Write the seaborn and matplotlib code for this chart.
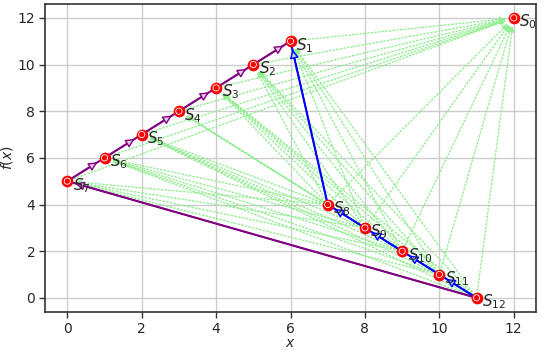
import matplotlib
matplotlib.use("Agg")
import matplotlib.pyplot as plt
import seaborn as sns
import pandas as pd

# Data
xs = [12, 6, 5, 4, 3, 2, 1, 0, 7, 8, 9, 10, 11]
ys = [12, 11, 10, 9, 8, 7, 6, 5, 4, 3, 2, 1, 0]
labels = [f"$S_{{{i}}}$" for i in range(13)]
upper_ids = [1, 2, 3, 4, 5, 6, 7]
lower_ids = [8, 9, 10, 11, 12]
purple_path = [12, 7, 6, 5, 4, 3, 2, 1]   # arrows go along this order
blue_path = [12, 11, 10, 9, 8, 1]

df = pd.DataFrame({"x": xs, "y": ys, "label": labels})

sns.set_theme(style="whitegrid")
plt.rcParams["font.family"] = ["DejaVu Sans"]
plt.rcParams["mathtext.fontset"] = "dejavusans"

fig = plt.figure(figsize=(5.42, 3.5), dpi=100)
ax = fig.add_axes([0.083, 0.109, 0.906, 0.880])

ax.grid(True, color="#cccccc", lw=1.0)
for s in ax.spines.values():
    s.set_color("#333333")
    s.set_linewidth(1.2)
ax.tick_params(axis="both", which="both", length=4, width=1, color="#333333",
               labelsize=10, bottom=True, left=True, pad=3)

# green dotted arrows
green_edges = [(j, 0) for j in range(1, 13)] + [(l, u) for u in upper_ids for l in lower_ids]
for a, b in green_edges:
    ax.annotate("", xy=(xs[b], ys[b]), xytext=(xs[a], ys[a]),
                arrowprops=dict(arrowstyle="-|>", color="#90ee90", ls=":", lw=1.0,
                                shrinkA=0, shrinkB=6, mutation_scale=8), zorder=2)

# purple and blue lines
sns.lineplot(x=[xs[i] for i in purple_path], y=[ys[i] for i in purple_path], ax=ax,
             color="purple", lw=1.5, sort=False, estimator=None, zorder=3)
sns.lineplot(x=[xs[i] for i in blue_path], y=[ys[i] for i in blue_path], ax=ax,
             color="blue", lw=1.5, sort=False, estimator=None, zorder=3)

for path, col, fc in [(purple_path, "purple", "#e8c8f0"), (blue_path, "blue", "#b0d0ff")]:
    for a, b in zip(path[:-1], path[1:]):
        ax.annotate("", xy=(xs[b], ys[b]), xytext=(xs[a], ys[a]),
                    arrowprops=dict(arrowstyle="-|>", color=col, fc=fc, ec=col, lw=1.0,
                                    shrinkA=0, shrinkB=6, mutation_scale=13), zorder=4)

sns.scatterplot(data=df, x="x", y="y", ax=ax, s=55, color="red", edgecolor="red",
                linewidth=1, zorder=5, legend=False)
ax.scatter(xs, ys, s=20, facecolor="none", edgecolor="white", linewidth=0.6, zorder=6)

for x, y, lab in zip(xs, ys, labels):
    ax.annotate(lab, (x, y), xytext=(4, -3), textcoords="offset points",
                ha="left", va="center", fontsize=11, zorder=7)

ax.set_xlim(-0.6, 12.6)
ax.set_ylim(-0.6, 12.6)
ax.set_xticks([0, 2, 4, 6, 8, 10, 12])
ax.set_yticks([0, 2, 4, 6, 8, 10, 12])
ax.set_xlabel("$x$", fontsize=10, labelpad=0)
ax.set_ylabel("$f(x)$", fontsize=10, labelpad=2)

fig.savefig("out.png", dpi=100)
